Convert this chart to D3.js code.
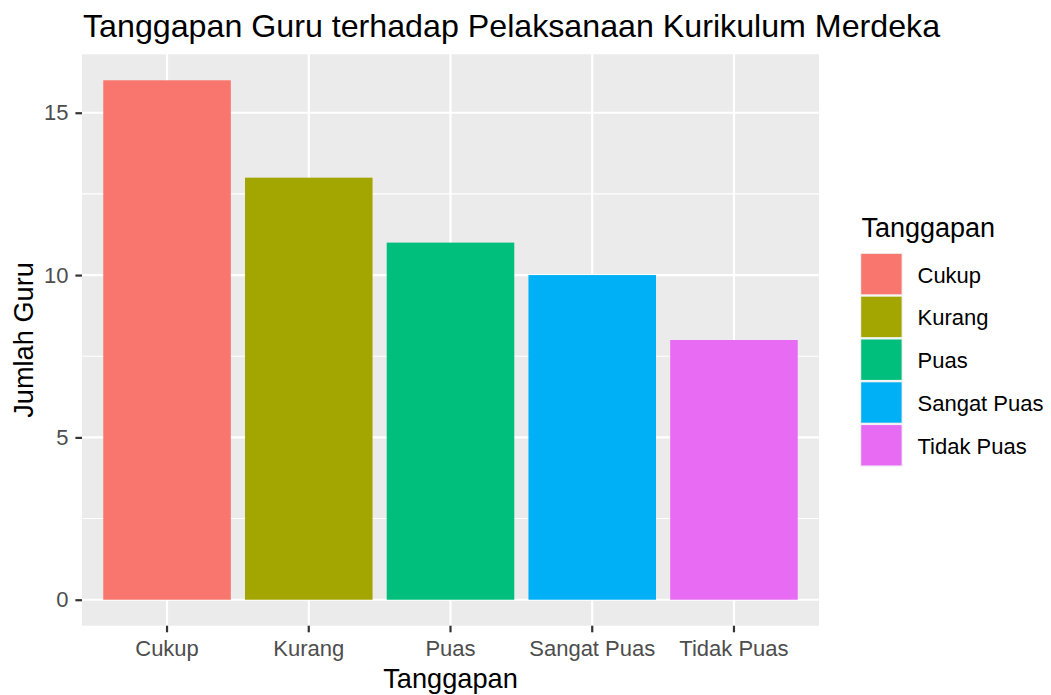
<!DOCTYPE html>
<html>
<head>
<meta charset="utf-8">
<script src="https://cdn.jsdelivr.net/npm/d3@7"></script>
<style>
  body { margin: 0; background: white; }
  svg { display: block; font-family: "Liberation Sans", Arial, sans-serif; }
</style>
</head>
<body>
<div id="chart"></div>
<script>
// data
const categories = ["Cukup", "Kurang", "Puas", "Sangat Puas", "Tidak Puas"];
const jumlahGuru = [16, 13, 11, 10, 8];
const colours = ["#F8766D", "#A3A500", "#00BF7D", "#00B0F6", "#E76BF3"];
const yTicks = [0, 5, 10, 15];
const yMinor = [2.5, 7.5, 12.5];

const data = categories.map((c, i) => ({ name: c, value: jumlahGuru[i], colour: colours[i] }));

const W = 1051, H = 695;
const panel = { left: 82, right: 819, top: 54.3, bottom: 625.7 };

const svg = d3.select("#chart").append("svg")
    .attr("width", W)
    .attr("height", H);

const x = d3.scaleBand()
    .domain(categories)
    .range([panel.left, panel.right])
    .paddingInner(0.1)
    .paddingOuter(0.15);

const y = d3.scaleLinear()
    .domain([-0.8, 16.8])
    .range([panel.bottom, panel.top]);

// panel background
svg.append("rect")
    .attr("x", panel.left).attr("y", panel.top)
    .attr("width", panel.right - panel.left)
    .attr("height", panel.bottom - panel.top)
    .attr("fill", "#EBEBEB");

// minor grid
svg.append("g").selectAll("line")
    .data(yMinor)
    .join("line")
    .attr("x1", panel.left).attr("x2", panel.right)
    .attr("y1", d => y(d)).attr("y2", d => y(d))
    .attr("stroke", "white").attr("stroke-width", 1.1);

// major grid
svg.append("g").selectAll("line")
    .data(yTicks)
    .join("line")
    .attr("x1", panel.left).attr("x2", panel.right)
    .attr("y1", d => y(d)).attr("y2", d => y(d))
    .attr("stroke", "white").attr("stroke-width", 2.2);

svg.append("g").selectAll("line")
    .data(categories)
    .join("line")
    .attr("x1", d => x(d) + x.bandwidth() / 2).attr("x2", d => x(d) + x.bandwidth() / 2)
    .attr("y1", panel.top).attr("y2", panel.bottom)
    .attr("stroke", "white").attr("stroke-width", 2.2);

// bars
svg.append("g").selectAll("rect")
    .data(data)
    .join("rect")
    .attr("x", d => x(d.name))
    .attr("width", x.bandwidth())
    .attr("y", d => y(d.value))
    .attr("height", d => y(0) - y(d.value))
    .attr("fill", d => d.colour);

// axes
const yAxis = svg.append("g")
    .attr("transform", `translate(${panel.left},0)`)
    .call(d3.axisLeft(y).tickValues(yTicks).tickSize(6.6).tickPadding(7));

const xAxis = svg.append("g")
    .attr("transform", `translate(0,${panel.bottom})`)
    .call(d3.axisBottom(x).tickSize(6.6).tickPadding(8));

[yAxis, xAxis].forEach(a => {
    a.select(".domain").remove();
    a.selectAll(".tick line").attr("stroke", "#333333").attr("stroke-width", 2.2);
    a.selectAll(".tick text")
        .attr("fill", "#4D4D4D")
        .style("font-size", "22px")
        .style("font-family", "'Liberation Sans', Arial, sans-serif");
});

// title
svg.append("text")
    .attr("x", panel.left + 1)
    .attr("y", 37)
    .attr("font-size", 32.2)
    .attr("fill", "black")
    .text("Tanggapan Guru terhadap Pelaksanaan Kurikulum Merdeka");

// axis titles
svg.append("text")
    .attr("x", (panel.left + panel.right) / 2)
    .attr("y", 688)
    .attr("text-anchor", "middle")
    .attr("font-size", 27.2)
    .text("Tanggapan");

svg.append("text")
    .attr("transform", `translate(33,${(panel.top + panel.bottom) / 2}) rotate(-90)`)
    .attr("text-anchor", "middle")
    .attr("font-size", 27.2)
    .text("Jumlah Guru");

// legend
const legend = svg.append("g").attr("transform", "translate(860,0)");
legend.append("text")
    .attr("x", 1.5)
    .attr("y", 236.5)
    .attr("font-size", 27)
    .text("Tanggapan");

const keySize = 42.8, keyTop = 252.7;
const keys = legend.selectAll("g.key")
    .data(data)
    .join("g")
    .attr("class", "key")
    .attr("transform", (d, i) => `translate(0,${keyTop + i * keySize})`);

keys.append("rect")
    .attr("width", keySize)
    .attr("height", keySize)
    .attr("fill", "#F2F2F2");

keys.append("rect")
    .attr("x", 1.2).attr("y", 1.2)
    .attr("width", keySize - 2.4)
    .attr("height", keySize - 2.4)
    .attr("fill", d => d.colour);

keys.append("text")
    .attr("x", 57.5)
    .attr("y", keySize / 2 + 8.5)
    .attr("font-size", 22)
    .attr("fill", "black")
    .text(d => d.name);
</script>
</body>
</html>
